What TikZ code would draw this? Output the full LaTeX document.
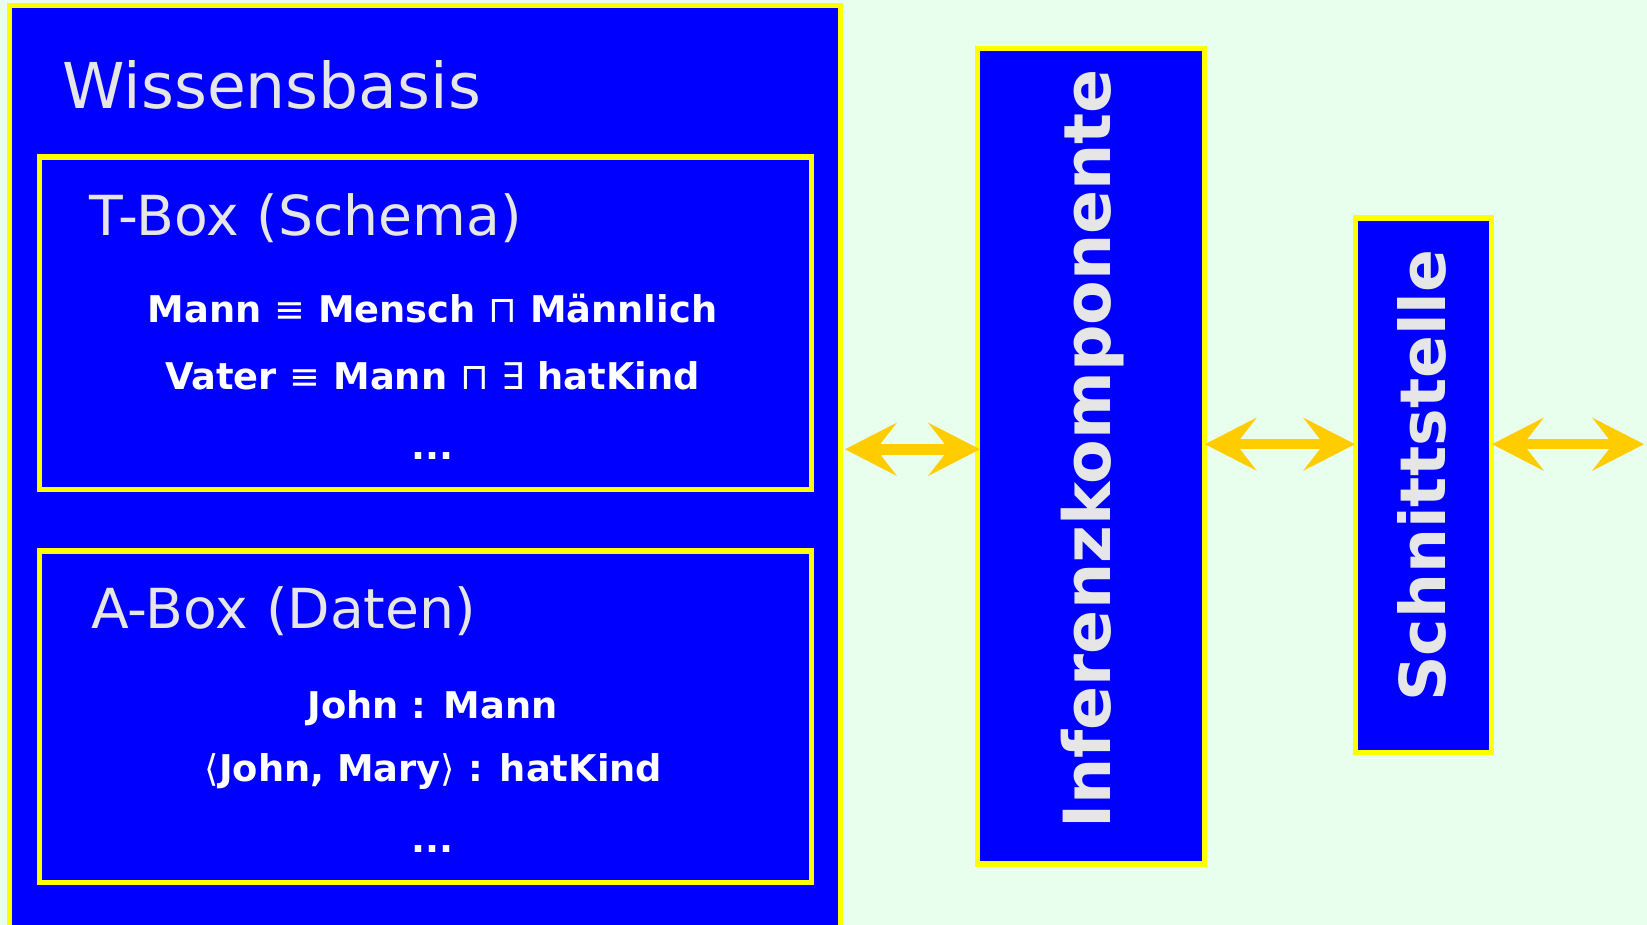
\documentclass[tikz,border=0pt]{standalone}
\usepackage{fontspec}
\setmainfont{DejaVu Sans}
\newfontface\symface{DejaVu Sans}
\usetikzlibrary{arrows.meta,calc}
\definecolor{bg}{HTML}{E8FFEE}
\definecolor{boxblue}{HTML}{0000FF}
\definecolor{boxyellow}{HTML}{FFFF00}
\definecolor{txtgray}{HTML}{E6E6E6}
\definecolor{arrgold}{HTML}{FFCC00}
\begin{document}
\begin{tikzpicture}[x=0.5pt,y=-0.5pt,
  box/.style={draw=boxyellow, fill=boxblue, line width=2.65pt, outer sep=0pt, inner sep=0pt},
  title/.style={text=txtgray, inner sep=0pt, anchor=base west},
  formula/.style={text=white, font=\bfseries\fontsize{18.4}{22}\selectfont, inner sep=0pt, anchor=base},
  vlabel/.style={text=txtgray, inner sep=0pt, anchor=base, rotate=90},
  gtip/.tip={Stealth[length=26pt,width=26.7pt,inset=10.4pt,line width=0pt]},
  dblarr/.style={draw=arrgold, fill=arrgold, line width=5.25pt, {gtip}-{gtip}}]
\useasboundingbox (0,0) rectangle (1647,925);
\fill[bg] (0,0) rectangle (1647,925);
\begin{scope}
\clip (0,0) rectangle (1647,925);
\node[box, minimum width=415.3pt, minimum height=497.1pt] (wb) at (425.1,502.9) {};
\end{scope}
\node[box, minimum width=386.05pt, minimum height=166.25pt] (tbox) at (425.65,323.25) {};
\node[box, minimum width=386.05pt, minimum height=165.9pt] (abox) at (425.65,716.9) {};
\node[box, minimum width=113.4pt, minimum height=407.85pt] (inf) at (1091,456.15) {};
\node[box, minimum width=68.1pt, minimum height=267.25pt] (sch) at (1423.6,485.25) {};
% titles
\node[title, font=\fontsize{31.6}{36}\selectfont] (wbt) at (62,108.3) {Wissensbasis};
\node[title, font=\fontsize{27.6}{32}\selectfont] (tbt) at (89.4,235) {T-Box (Schema)};
\node[title, font=\fontsize{27.6}{32}\selectfont] (abt) at (91,628.3) {A-Box (Daten)};
% formulas
\node[formula] (t1) at (432.5,322.7) {Mann {\symface ≡} Mensch {\symface ⊓} Männlich};
\node[formula] (t2) at (432.5,389.3) {Vater {\symface ≡} Mann {\symface ⊓} {\symface ∃} hatKind};
\node[formula] (t3) at (432.5,459.3) {...};
\node[formula] (a1) at (432.5,718.3) {John : Mann};
\node[formula] (a2) at (433.5,781.7) {{\symface ⟨}John, Mary{\symface ⟩} : hatKind};
\node[formula] (a3) at (432.5,852) {...};
% vertical labels
\node[vlabel, font=\bfseries\fontsize{32.5}{38}\selectfont] (inft) at (1110.8,448.9) {Inferenzkomponente};
\node[vlabel, font=\bfseries\fontsize{31.6}{36}\selectfont] (scht) at (1445,475.7) {Schnittstelle};
% arrows
\coordinate (y1) at (0,449.3);
\coordinate (y2) at (0,444.2);
\coordinate (out) at (1644,444.2);
\draw[dblarr] ($(wb.east|-y1)+(4.6,0)$) -- ($(inf.west|-y1)+(2.4,0)$);
\draw[dblarr] ($(inf.east|-y2)+(0.5,0)$) -- ($(sch.west|-y2)+(-0.5,0)$);
\draw[dblarr] ($(sch.east|-y2)+(0.3,0)$) -- (out);
\end{tikzpicture}
\end{document}
